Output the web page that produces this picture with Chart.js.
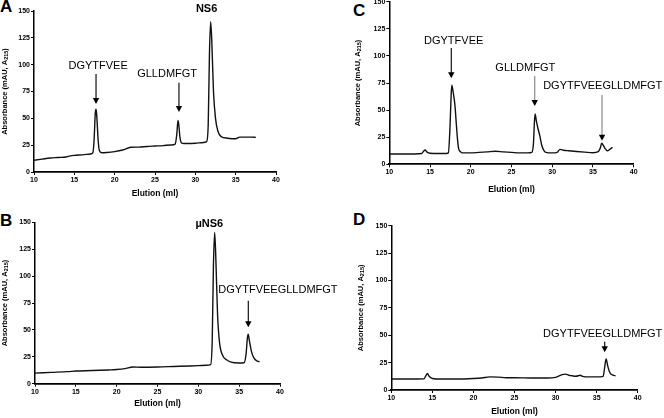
<!DOCTYPE html>
<html>
<head>
<meta charset="utf-8">
<script src="https://cdn.jsdelivr.net/npm/chart.js@4.4.1/dist/chart.umd.min.js"></script>
<style>
  body { margin: 0; background: #fff; width: 664px; height: 418px; position: relative; overflow: hidden;
         font-family: "Liberation Sans", Arial, sans-serif; }
  canvas { position: absolute; }
  .tag { position: absolute; font-weight: bold; font-size: 17px; line-height: 1; }
</style>
</head>
<body>
<div class="tag" style="left:0;top:-2px">A</div>
<div class="tag" style="left:0;top:212px">B</div>
<div class="tag" style="left:353px;top:2px">C</div>
<div class="tag" style="left:353px;top:211px">D</div>

<canvas id="chartA" width="332" height="199" style="left:0;top:0"></canvas>
<canvas id="chartB" width="340" height="200" style="left:0;top:209px"></canvas>
<canvas id="chartC" width="311" height="205" style="left:353px;top:-10px"></canvas>
<canvas id="chartD" width="308" height="208" style="left:356px;top:209px"></canvas>

<script>
// elution volume (ml) and absorbance (mAU, A215)
const elutionA = [10, 11, 12, 13, 14, 14.5, 15, 16, 17, 17.3, 17.45, 17.6, 17.7, 17.8, 17.95, 18.1, 18.4, 19, 20, 21, 22, 23, 24, 25, 26, 27, 27.5, 27.7, 27.85, 27.95, 28.1, 28.3, 28.6, 29, 30, 31, 31.4, 31.6, 31.75, 31.9, 32.05, 32.25, 32.5, 32.8, 33.2, 34, 35, 35.5, 36, 37, 37.5];
const absorbA = [11, 12, 13, 13.5, 14, 15, 15.5, 16, 16.8, 18, 30, 55, 58.5, 50, 30, 20, 18, 18.2, 19, 20.5, 23, 23.2, 23.8, 24.2, 24.6, 25.2, 26, 35, 48, 44, 32, 27, 26.5, 26.5, 26.8, 27.5, 28.5, 45, 110, 140, 120, 75, 50, 38, 33, 31.5, 31, 32.5, 32.5, 32.5, 32.3];

const elutionB = [10, 12, 14, 15, 17, 19, 20, 21, 22, 23, 25, 27, 29, 30, 31, 31.5, 31.7, 31.85, 32, 32.15, 32.35, 32.6, 33, 33.5, 34, 35, 35.6, 35.85, 36, 36.1, 36.25, 36.5, 36.8, 37.2, 37.5];
const absorbB = [9.8, 10.5, 11.2, 11.8, 12.2, 12.8, 13.2, 14, 15.5, 15.3, 15.5, 16, 16.5, 16.8, 17.2, 17.8, 40, 110, 140.5, 115, 65, 38, 26, 22, 20, 19.2, 19.5, 28, 42, 46, 40, 30, 24, 21, 20.5];

const elutionC = [10, 12, 14, 14.2, 14.4, 14.6, 15, 16, 17, 17.25, 17.45, 17.6, 17.68, 17.85, 18.05, 18.2, 18.35, 18.5, 18.75, 19, 20, 21, 22, 23, 24, 25, 26, 27, 27.5, 27.7, 27.82, 27.9, 28.05, 28.25, 28.5, 28.7, 28.9, 29.2, 30, 30.6, 30.95, 31.4, 32, 33, 34, 35, 35.65, 35.9, 36.07, 36.3, 36.5, 36.75, 37.1, 37.4];
const absorbC = [9.5, 9.5, 10, 12, 13.2, 11.5, 10.2, 10, 10, 10.5, 34, 65, 73, 66, 55, 40, 25, 15, 11.5, 10.5, 10.5, 11, 11.5, 12, 11.5, 11, 10.5, 10.5, 11, 20, 40, 46.5, 40, 33, 25.5, 18, 13.8, 11, 10.5, 11, 13.8, 13, 12.5, 11.8, 11.2, 10.7, 11.6, 15, 19.4, 17, 14.5, 12.5, 14, 15.7];

const elutionD = [10, 12, 14, 14.2, 14.4, 14.6, 15, 16, 18, 20, 21, 22, 23, 24, 25, 27, 29, 30, 30.8, 31.2, 31.6, 32, 32.5, 33, 33.3, 34, 35, 35.8, 36, 36.15, 36.35, 36.6, 37, 37.3];
const absorbD = [10, 10, 10.2, 13, 15, 12.5, 10.5, 10, 10, 10.5, 11, 12, 11.8, 11.2, 11.2, 11, 11, 11.5, 14, 14.5, 13.5, 13, 12.5, 13.5, 12.5, 12, 12, 12.5, 22, 28.3, 22, 16, 13.5, 13];

const xTicks = [10, 15, 20, 25, 30, 35, 40];
const yTicks = [0, 25, 50, 75, 100, 125, 150];

const FONT = '"Liberation Sans", Arial, sans-serif';

// y title with a real subscript, drawn rotated at the left edge of the canvas
const yTitle = {
  id: 'yTitle',
  afterDraw(chart) {
    const { ctx, chartArea } = chart;
    const parts = [['Absorbance (mAU, A', 7.5, 0], ['215', 5.5, 1.8], [')', 7.5, 0]];
    ctx.save();
    ctx.translate(4.8, (chartArea.top + chartArea.bottom) / 2);
    ctx.rotate(-Math.PI / 2);
    ctx.fillStyle = '#000';
    ctx.textBaseline = 'middle';
    ctx.textAlign = 'left';
    let total = 0;
    parts.forEach(p => { ctx.font = 'bold ' + p[1] + 'px ' + FONT; total += ctx.measureText(p[0]).width; });
    let pos = -total / 2;
    parts.forEach(p => {
      ctx.font = 'bold ' + p[1] + 'px ' + FONT;
      ctx.fillText(p[0], pos, p[2]);
      pos += ctx.measureText(p[0]).width;
    });
    ctx.restore();
  }
};

// peak labels with arrows, placed in data units
const peakNotes = {
  id: 'peakNotes',
  afterDatasetsDraw(chart, args, opts) {
    const { ctx, scales: { x, y } } = chart;
    ctx.save();
    (opts.items || []).forEach(it => {
      ctx.font = (it.bold ? 'bold ' : '') + '11px ' + FONT;
      ctx.fillStyle = '#000';
      ctx.textAlign = 'center';
      ctx.textBaseline = 'middle';
      ctx.fillText(it.text, x.getPixelForValue(it.tx), y.getPixelForValue(it.ty));
      if (it.ax !== undefined) {
        const ax = x.getPixelForValue(it.ax);
        const y0 = y.getPixelForValue(it.from);
        const y1 = y.getPixelForValue(it.to);
        ctx.strokeStyle = it.gray ? '#8a8a8a' : '#111';
        ctx.lineWidth = 1.2;
        ctx.beginPath();
        ctx.moveTo(ax, y0);
        ctx.lineTo(ax, y1 - 5);
        ctx.stroke();
        ctx.fillStyle = '#000';
        ctx.beginPath();
        ctx.moveTo(ax - 3.2, y1 - 6);
        ctx.lineTo(ax + 3.2, y1 - 6);
        ctx.lineTo(ax, y1);
        ctx.closePath();
        ctx.fill();
      }
    });
    ctx.restore();
  }
};

function makePanel(id, xs, ys, box, notes) {
  const points = xs.map((v, i) => ({ x: v, y: ys[i] }));
  return new Chart(document.getElementById(id), {
    type: 'line',
    data: {
      datasets: [{
        data: points,
        borderColor: '#111',
        borderWidth: 1.4,
        pointRadius: 0,
        cubicInterpolationMode: 'monotone',
        fill: false
      }]
    },
    options: {
      responsive: false,
      animation: false,
      layout: { padding: { top: box.top, right: box.right, left: 0, bottom: 0 } },
      plugins: { legend: { display: false }, tooltip: { enabled: false }, peakNotes: { items: notes } },
      scales: {
        x: {
          type: 'linear', min: 10, max: 40,
          afterBuildTicks: s => { s.ticks = xTicks.map(v => ({ value: v })); },
          afterFit: s => { s.height = box.xh; },
          border: { color: '#000', width: 1.8 },
          grid: { drawOnChartArea: false, drawTicks: true, tickLength: 3, color: '#000', lineWidth: 1 },
          ticks: { color: '#000', padding: 1, maxRotation: 0, font: { family: FONT, size: 7, weight: 'bold' } },
          title: { display: true, text: 'Elution (ml)', color: '#000', padding: 0,
                   font: { family: FONT, size: 8.5, weight: 'bold' } }
        },
        y: {
          min: 0, max: 150,
          afterBuildTicks: s => { s.ticks = yTicks.map(v => ({ value: v })); },
          afterFit: s => { s.width = box.yw; },
          border: { color: '#000', width: 1.5 },
          grid: { drawOnChartArea: false, drawTicks: true, tickLength: 3, color: '#000', lineWidth: 1 },
          ticks: { color: '#000', padding: 1, font: { family: FONT, size: 7, weight: 'bold' } },
          title: { display: false }
        }
      }
    },
    plugins: [peakNotes, yTitle]
  });
}

makePanel('chartA', elutionA, absorbA, { yw: 34, xh: 27, top: 11, right: 56 }, [
  { text: 'DGYTFVEE', tx: 17.95, ty: 99, ax: 17.69, from: 91.3, to: 63.4 },
  { text: 'GLLDMFGT', tx: 26.5, ty: 91.3, ax: 27.97, from: 83.2, to: 55.9 },
  { text: 'NS6', tx: 31.4, ty: 152, bold: true }
]);

makePanel('chartB', elutionB, absorbB, { yw: 35, xh: 25.3, top: 13.3, right: 60 }, [
  { text: '\u00b5NS6', tx: 31.34, ty: 148.4, bold: true },
  { text: 'DGYTFVEEGLLDMFGT', tx: 39.75, ty: 87.4, ax: 36.12, from: 77.1, to: 52.4 }
]);

makePanel('chartC', elutionC, absorbC, { yw: 36.3, xh: 30.7, top: 11.7, right: 30.3 }, [
  { text: 'DGYTFVEE', tx: 17.9, ty: 114, ax: 17.61, from: 107.3, to: 79.3 },
  { text: 'GLLDMFGT', tx: 26.69, ty: 89.1, ax: 27.85, from: 81.5, to: 53.8, gray: true },
  { text: 'DGYTFVEEGLLDMFGT', tx: 36.2, ty: 72.2, ax: 36.11, from: 63.9, to: 21.8, gray: true }
]);

makePanel('chartD', elutionD, absorbD, { yw: 35.3, xh: 27, top: 16.7, right: 26.3 }, [
  { text: 'DGYTFVEEGLLDMFGT', tx: 35.74, ty: 51.1, ax: 35.98, from: 44.1, to: 34.4 }
]);
</script>
</body>
</html>
